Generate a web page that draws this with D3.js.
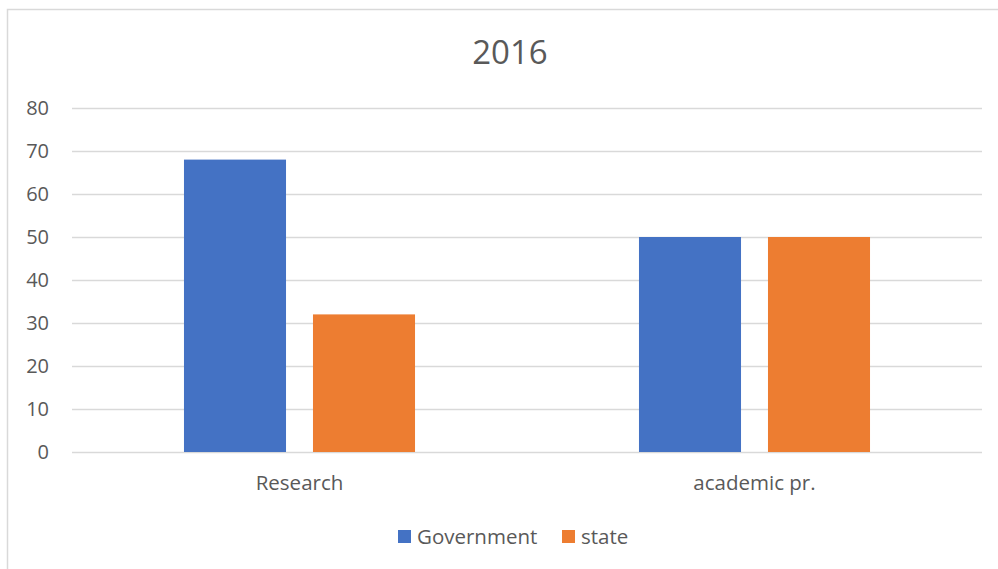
<!DOCTYPE html>
<html>
<head>
<meta charset="utf-8">
<script src="https://cdn.jsdelivr.net/npm/d3@7"></script>
<style>
  html, body { margin: 0; padding: 0; background: #fff; }
  svg { display: block; }
  text { font-family: "Open Sans", "Liberation Sans", sans-serif; fill: #595959; }
</style>
</head>
<body>
<svg id="chart" width="998" height="569"></svg>
<script>
// Chart data
const title = "2016";
const categories = ["Research", "academic pr."];
const seriesNames = ["Government", "state"];
const government = [68, 50];
const state = [32, 50];
const yTicks = [0, 10, 20, 30, 40, 50, 60, 70, 80];
const colors = ["#4472C4", "#ED7D31"];

const svg = d3.select("#chart");
const W = 998, H = 569;

// Outer frame of the chart area
svg.append("rect")
  .attr("x", 7.5).attr("y", 9.5)
  .attr("width", W + 10).attr("height", H + 10)
  .attr("fill", "none").attr("stroke", "#d9d9d9").attr("stroke-width", 1.5);

const plot = { left: 72, right: 982, top: 108, bottom: 452 };

const x0 = d3.scaleBand().domain(categories)
  .range([plot.left, plot.right]).paddingInner(0).paddingOuter(0);
const x1 = d3.scaleBand().domain(seriesNames)
  .range([0, x0.bandwidth()]).paddingInner(0.209).paddingOuter(0.868);
const y = d3.scaleLinear().domain([0, 80]).range([plot.bottom, plot.top]);

// Gridlines
svg.append("g").selectAll("line").data(yTicks).join("line")
  .attr("x1", plot.left).attr("x2", plot.right)
  .attr("y1", d => Math.round(y(d)) + 0.5).attr("y2", d => Math.round(y(d)) + 0.5)
  .attr("stroke", "#d9d9d9").attr("stroke-width", 1.5);

// Y axis labels
svg.append("g").selectAll("text").data(yTicks).join("text")
  .attr("x", 49).attr("y", d => y(d))
  .attr("dy", "0.35em").attr("text-anchor", "end")
  .attr("font-size", 20).text(d => d);

// Bars
const series = [government, state];
const rows = categories.map((c, i) => ({ cat: c, vals: seriesNames.map((s, j) => ({ s, j, v: series[j][i] })) }));
const groups = svg.append("g").selectAll("g").data(rows).join("g")
  .attr("transform", d => `translate(${x0(d.cat)},0)`);
groups.selectAll("rect").data(d => d.vals).join("rect")
  .attr("x", d => x1(d.s)).attr("width", x1.bandwidth())
  .attr("y", d => y(d.v)).attr("height", d => y(0) - y(d.v))
  .attr("fill", d => colors[d.j]);

// Category labels
svg.append("g").selectAll("text").data(categories).join("text")
  .attr("x", d => x0(d) + x0.bandwidth() / 2).attr("y", 490)
  .attr("text-anchor", "middle").attr("font-size", 20.5).text(d => d);

// Title
svg.append("text").attr("x", 510).attr("y", 64)
  .attr("text-anchor", "middle").attr("font-size", 33).text(title);

// Legend
const legendItems = [{ name: seriesNames[0], x: 398 }, { name: seriesNames[1], x: 562 }];
const lg = svg.append("g").selectAll("g").data(legendItems).join("g")
  .attr("transform", d => `translate(${d.x},530)`);
lg.append("rect").attr("width", 13).attr("height", 13)
  .attr("fill", (d, i) => colors[i]);
lg.append("text").attr("x", 19).attr("y", 6.5).attr("dy", "0.35em")
  .attr("font-size", 20.5).text(d => d.name);
</script>
</body>
</html>
